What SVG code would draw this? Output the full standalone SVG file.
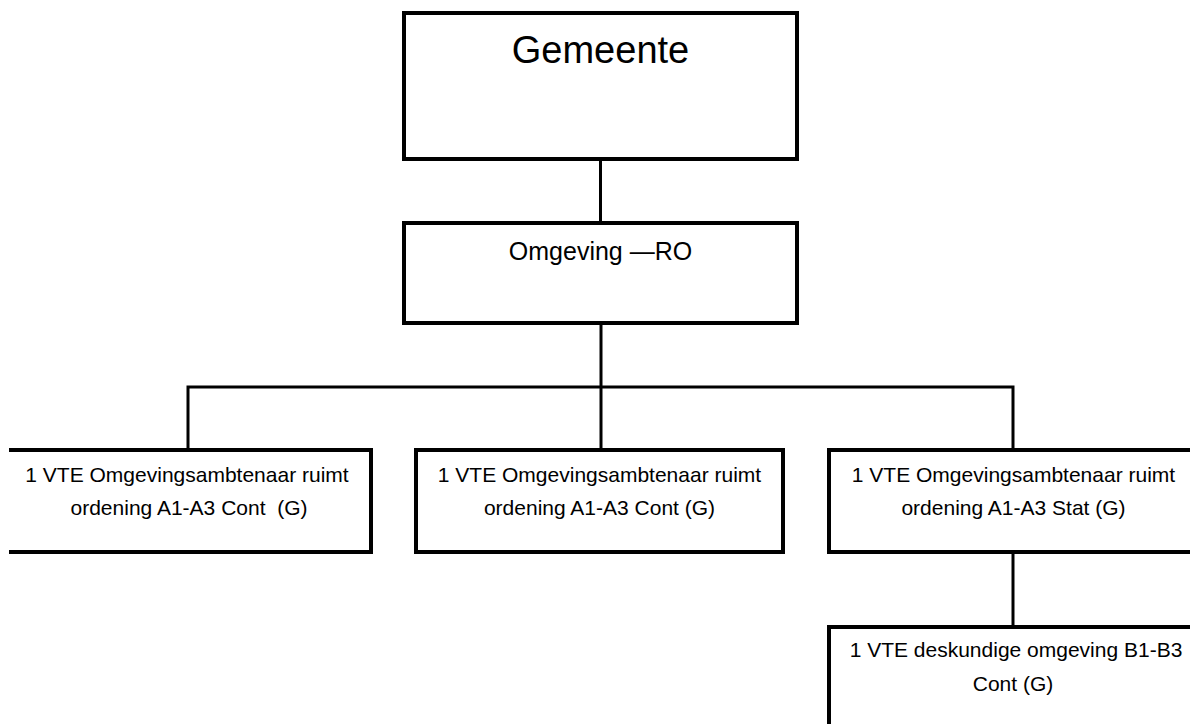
<svg xmlns="http://www.w3.org/2000/svg" width="1190" height="724" viewBox="0 0 1190 724">
<style>
.box{fill:#fff;stroke:#000;stroke-width:4}
.conn{fill:none;stroke:#000;stroke-width:3}
text{font-family:"Liberation Sans",Arial,sans-serif;fill:#000;text-anchor:middle}
.t1{font-size:38px}
.t2{font-size:25px}
.t3{font-size:21px}
</style>
<rect width="1190" height="724" fill="#fff"/>
<g id="connectors">
<path class="conn" d="M600.5,160 V223"/>
<path class="conn" d="M601,323 V450"/>
<path class="conn" d="M188,450 V387 H1013 V450"/>
<path class="conn" d="M1013,552 V627"/>
</g>
<g id="gemeente">
<rect class="box" x="404" y="13" width="393" height="146"/>
<text class="t1" x="600.5" y="63">Gemeente</text>
</g>
<g id="omgeving-ro">
<rect class="box" x="404" y="223" width="393" height="100"/>
<text class="t2" x="600.5" y="260">Omgeving —RO</text>
</g>
<g id="vte-left">
<path class="box" d="M9,450 H371 V552 H9"/>
<text class="t3" x="187" y="482">1 VTE Omgevingsambtenaar ruimt</text>
<text class="t3" x="189" y="515" xml:space="preserve">ordening A1-A3 Cont  (G)</text>
</g>
<g id="vte-middle">
<rect class="box" x="416" y="450" width="367" height="102"/>
<text class="t3" x="599.5" y="482">1 VTE Omgevingsambtenaar ruimt</text>
<text class="t3" x="599.5" y="515">ordening A1-A3 Cont (G)</text>
</g>
<g id="vte-right">
<rect class="box" x="829" y="450" width="368" height="102"/>
<text class="t3" x="1013.5" y="482">1 VTE Omgevingsambtenaar ruimt</text>
<text class="t3" x="1013.5" y="515">ordening A1-A3 Stat (G)</text>
</g>
<g id="vte-deskundige">
<rect class="box" x="829" y="627" width="368" height="110"/>
<text class="t3" x="1016" y="657">1 VTE deskundige omgeving B1-B3</text>
<text class="t3" x="1013" y="691">Cont (G)</text>
</g>
</svg>
